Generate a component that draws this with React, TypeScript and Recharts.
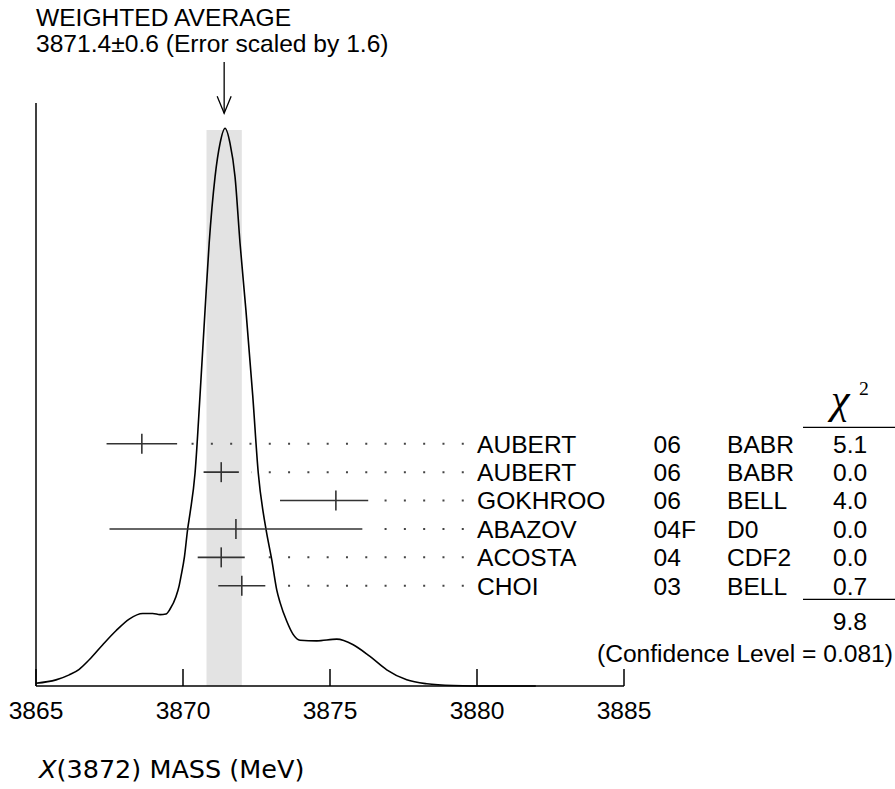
import {
  ComposedChart,
  ErrorBar,
  Line,
  ReferenceArea,
  ReferenceLine,
  Scatter,
  XAxis,
  YAxis,
} from "recharts"

// x axis
const tickValues = [3865, 3870, 3875, 3880, 3885]

// ideogram curve (peak normalised to 1)
const curveMass = [
  3865.0, 3865.68, 3866.13, 3866.47, 3866.81, 3867.27, 3867.72, 3868.17, 3868.63, 3868.97,
  3869.22, 3869.42, 3869.56, 3869.76, 3869.87, 3869.93, 3870.05, 3870.16, 3870.24, 3870.41,
  3870.58, 3870.75, 3870.89, 3871.09, 3871.26, 3871.43, 3871.6, 3871.77, 3871.94, 3872.14,
  3872.37, 3872.56, 3872.82, 3873.02, 3873.19, 3873.3, 3873.53, 3873.74, 3873.98, 3874.55,
  3875.23, 3875.79, 3876.36, 3876.93, 3877.61, 3878.29, 3879.19, 3880.5, 3882.0,
]
const curveDensity = [
  0.005, 0.011, 0.02, 0.03, 0.047, 0.074, 0.099, 0.12, 0.13, 0.13,
  0.128, 0.129, 0.138, 0.16, 0.18, 0.196, 0.232, 0.282, 0.31, 0.382,
  0.522, 0.674, 0.794, 0.913, 0.973, 1.0, 0.973, 0.913, 0.794, 0.674,
  0.522, 0.382, 0.282, 0.226, 0.172, 0.15, 0.116, 0.093, 0.082, 0.081,
  0.084, 0.074, 0.053, 0.029, 0.011, 0.004, 0.001, 0.0, 0.0,
]

// measurements, top to bottom
const names = ["AUBERT", "AUBERT", "GOKHROO", "ABAZOV", "ACOSTA", "CHOI"]
const years = ["06", "06", "06", "04F", "04", "03"]
const experiments = ["BABR", "BABR", "BELL", "D0", "CDF2", "BELL"]
const chi2 = ["5.1", "0.0", "4.0", "0.0", "0.0", "0.7"]
const centers = [3868.6, 3871.3, 3875.2, 3871.8, 3871.3, 3872.0]
const errLow = [1.2, 0.6, 1.9, 4.3, 0.8, 0.8]
const errHigh = [1.2, 0.6, 1.1, 4.3, 0.8, 0.8]

const average = 3871.4
const averageErr = 0.6
const bandTop = 0.997
const chi2Total = "9.8"
const confidence = "0.081"
const labelMass = 3880

const curve = curveMass.map((m, i) => ({ mass: m, density: curveDensity[i] }))
const rows = names.map((name, i) => ({
  mass: centers[i],
  row: names.length - 1 - i,
  err: [errLow[i], errHigh[i]],
  hi: centers[i] + errHigh[i],
}))
const labels = names.map((name, i) => ({
  mass: labelMass,
  row: names.length - 1 - i,
  name,
  year: years[i],
  exp: experiments[i],
  chi2: chi2[i],
}))

const SANS = "'Liberation Sans', Arial, Helvetica, sans-serif"
const SERIF = "'Liberation Serif', 'Times New Roman', serif"
const FS = 24.6

function MassTick(props: any) {
  const { x, y, payload } = props
  return (
    <g>
      <line x1={x} x2={x} y1={y} y2={y - 17} stroke="#000" strokeWidth={1.5} />
      <text x={x} y={y + 33} textAnchor="middle" fontFamily={SANS} fontSize={FS} fill="#000">
        {payload.value}
      </text>
    </g>
  )
}

function CenterTick(props: any) {
  const { cx, cy } = props
  return <line x1={cx} x2={cx} y1={cy - 10} y2={cy + 10} stroke="#333" strokeWidth={1.6} />
}

function RowLabel(props: any) {
  const { cx, cy, payload } = props
  const base = cy + 8.8
  return (
    <g fontFamily={SANS} fontSize={FS} fill="#000">
      <text x={cx} y={base}>{payload.name}</text>
      <text x={cx + 176.6} y={base}>{payload.year}</text>
      <text x={cx + 250} y={base}>{payload.exp}</text>
      <text x={cx + 390.3} y={base} textAnchor="end">{payload.chi2}</text>
    </g>
  )
}

function Arrow(props: any) {
  const { x1, y1, x2, y2 } = props
  return (
    <g stroke="#000" strokeWidth={1.3} fill="none">
      <line x1={x1} y1={y1} x2={x2} y2={y2} />
      <polyline points={`${x2 - 7},${y2 - 17} ${x2},${y2} ${x2 + 7},${y2 - 17}`} />
    </g>
  )
}

export default function App() {
  return (
    <div style={{ position: "absolute", left: 0, top: 0, width: 895, height: 789, background: "#fff" }}>
      <ComposedChart
        width={895}
        height={789}
        data={curve}
        margin={{ top: 103, right: 271, bottom: 63, left: 36 }}
      >
        <XAxis
          type="number"
          dataKey="mass"
          domain={[3865, 3885]}
          ticks={tickValues}
          height={40}
          tickSize={0}
          tickMargin={0}
          tickLine={false}
          tick={<MassTick />}
          axisLine={{ stroke: "#000", strokeWidth: 1.5 }}
        />
        <YAxis yAxisId="curve" type="number" domain={[0, 1.0454]} hide />
        <YAxis yAxisId="rows" type="number" dataKey="row" domain={[-3.53, 17]} hide />

        <ReferenceArea
          yAxisId="curve"
          x1={average - averageErr}
          x2={average + averageErr}
          y1={0}
          y2={bandTop}
          fill="#e3e3e3"
          fillOpacity={1}
          stroke="none"
          zIndex={-50}
        />
        <ReferenceLine yAxisId="curve" x={3865} stroke="#000" strokeWidth={1.5} />
        <ReferenceLine
          yAxisId="curve"
          ifOverflow="visible"
          segment={[
            { x: average, y: 1.119 },
            { x: average, y: 1.027 },
          ]}
          shape={Arrow}
        />

        {rows.map((r) => (
          <ReferenceLine
            key={`lead-${r.row}`}
            yAxisId="rows"
            segment={[
              { x: labelMass - 0.45, y: r.row },
              { x: r.hi + 0.42, y: r.row },
            ]}
            stroke="#444"
            strokeWidth={2}
            strokeDasharray="2 17.3"
          />
        ))}

        <Line
          yAxisId="curve"
          dataKey="density"
          type="monotone"
          stroke="#000"
          strokeWidth={1.6}
          dot={false}
          activeDot={false}
          isAnimationActive={false}
        />

        <Scatter yAxisId="rows" data={rows} shape={<CenterTick />} isAnimationActive={false}>
          <ErrorBar dataKey="err" direction="x" width={0} stroke="#333" strokeWidth={1.6} />
        </Scatter>
        <Scatter yAxisId="rows" data={labels} shape={<RowLabel />} isAnimationActive={false} />
      </ComposedChart>

      <svg
        width={895}
        height={789}
        style={{ position: "absolute", left: 0, top: 0, pointerEvents: "none" }}
      >
        <g fontFamily={SANS} fontSize={FS} fill="#000">
          <text x={36} y={26}>WEIGHTED AVERAGE</text>
          <text x={36} y={51.7}>
            {`${average}±${averageErr} (Error scaled by 1.6)`}
          </text>
          <text x={867} y={629.5} textAnchor="end">{chi2Total}</text>
          <text x={893} y={661.5} textAnchor="end">{`(Confidence Level = ${confidence})`}</text>
        </g>
        <text x={831} y={413} fontFamily={SERIF} fontStyle="italic" fontSize={42}>
          χ
        </text>
        <text x={859} y={395} fontFamily={SERIF} fontSize={19.7}>
          2
        </text>
        <line x1={803} x2={895} y1={427.3} y2={427.3} stroke="#000" strokeWidth={1.3} />
        <line x1={803} x2={895} y1={599.3} y2={599.3} stroke="#000" strokeWidth={1.3} />
        <text x={39} y={778} fontFamily="'DejaVu Sans', sans-serif" fontSize={25.5} fill="#000">
          <tspan fontStyle="italic">X</tspan>(3872) MASS (MeV)
        </text>
      </svg>
    </div>
  )
}
